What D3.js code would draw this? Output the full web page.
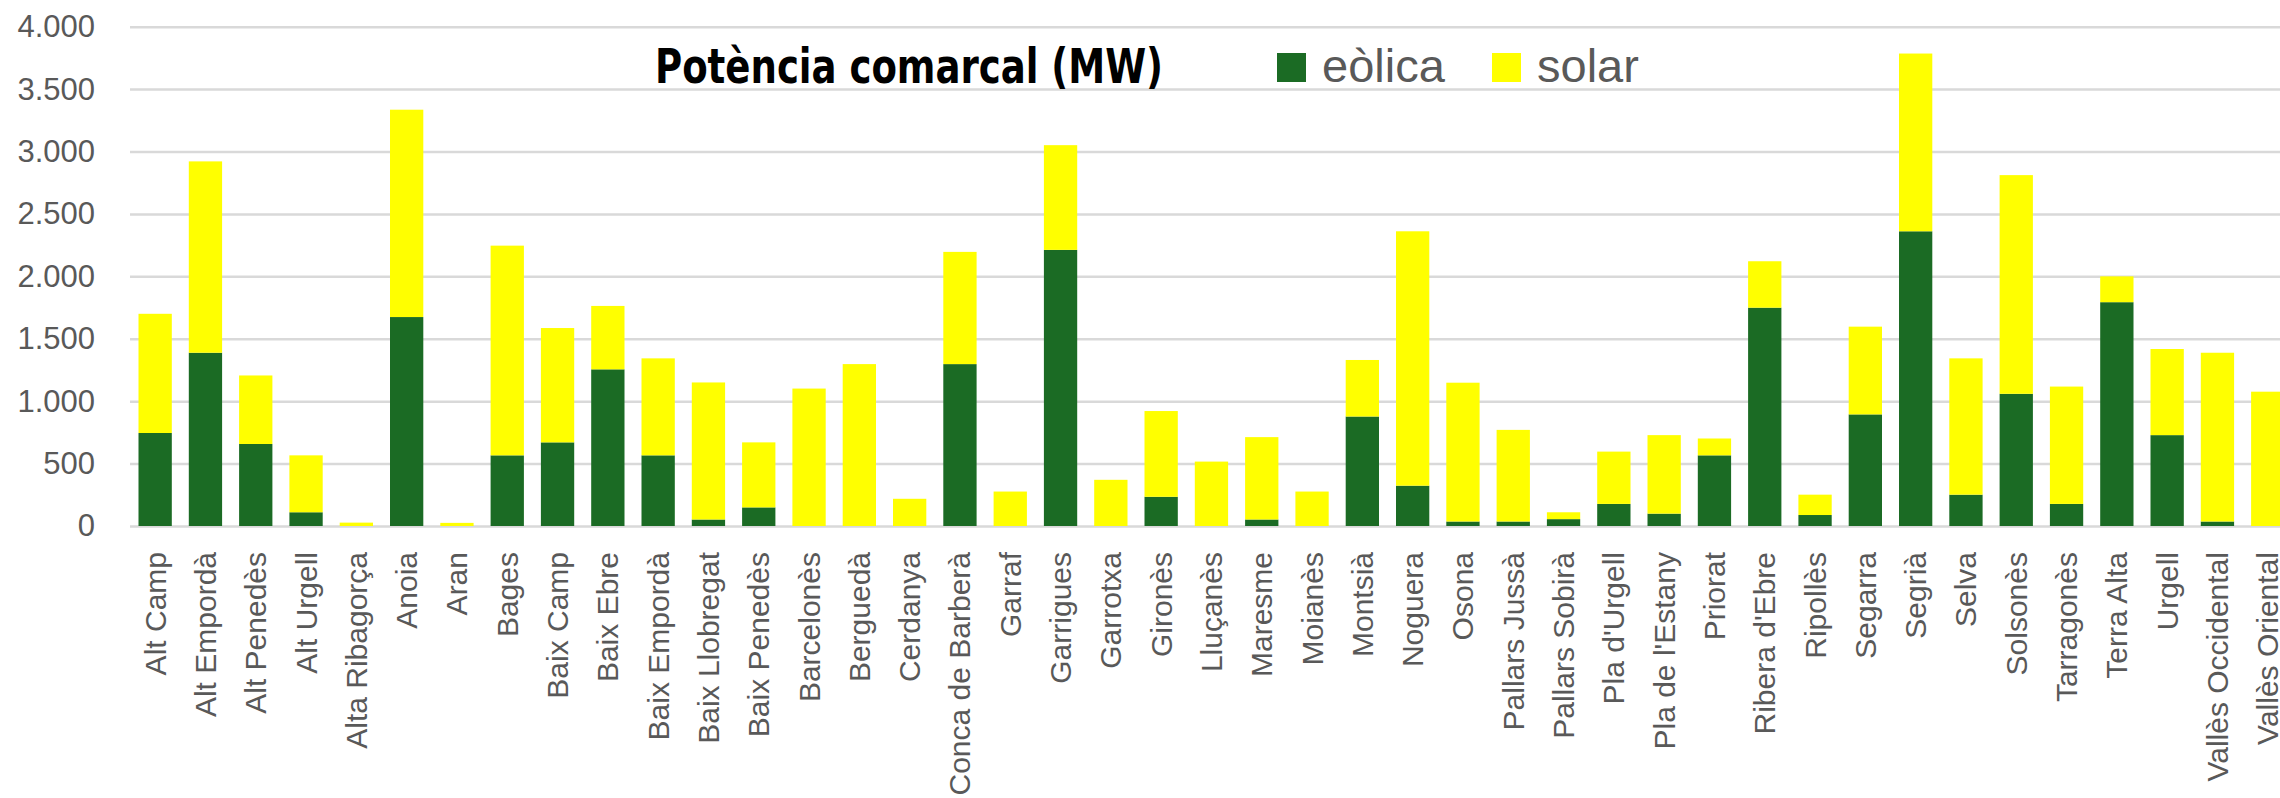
<!DOCTYPE html>
<html>
<head>
<meta charset="utf-8">
<script src="https://cdn.jsdelivr.net/npm/d3@7"></script>
<style>
  html, body { margin: 0; padding: 0; background: #ffffff; }
  svg { display: block; }
</style>
</head>
<body>
<svg id="chart" width="2280" height="798"></svg>
<script>
// Comarques of Catalonia
const categories = [
  "Alt Camp", "Alt Empordà", "Alt Penedès", "Alt Urgell", "Alta Ribagorça", "Anoia", "Aran",
  "Bages", "Baix Camp", "Baix Ebre", "Baix Empordà", "Baix Llobregat", "Baix Penedès",
  "Barcelonès", "Berguedà", "Cerdanya", "Conca de Barberà", "Garraf", "Garrigues", "Garrotxa",
  "Gironès", "Lluçanès", "Maresme", "Moianès", "Montsià", "Noguera", "Osona", "Pallars Jussà",
  "Pallars Sobirà", "Pla d'Urgell", "Pla de l'Estany", "Priorat", "Ribera d'Ebre", "Ripollès",
  "Segarra", "Segrià", "Selva", "Solsonès", "Tarragonès", "Terra Alta", "Urgell",
  "Vallès Occidental", "Vallès Oriental"
];

// Installed wind power per comarca (MW)
const eolica = [
  745, 1388, 657, 110, 0, 1674, 0,
  566, 670, 1255, 566, 52, 149,
  0, 0, 0, 1297, 0, 2212, 0,
  234, 0, 52, 0, 877, 323, 36, 36,
  55, 177, 99, 566, 1749, 88,
  894, 2361, 251, 1059, 177, 1793, 728,
  36, 0
];

// Installed solar power per comarca (MW)
const solar = [
  955, 1533, 549, 456, 27, 1661, 25,
  1680, 916, 508, 777, 1098, 521,
  1101, 1297, 218, 899, 276, 839, 370,
  687, 516, 660, 276, 453, 2038, 1112, 734,
  55, 419, 629, 135, 372, 163,
  703, 1424, 1092, 1752, 940, 207, 690,
  1352, 1076
];

const seriesNames = ["eòlica", "solar"];
const seriesColors = ["#1b6b24", "#ffff00"];
const yTicks = [0, 500, 1000, 1500, 2000, 2500, 3000, 3500, 4000];
const titleText = "Potència comarcal (MW)";

const svg = d3.select("#chart");
const plotLeft = 130, step = 50.3, plotBottom = 526, plotTop = 26.7;
const plotRight = plotLeft + step * categories.length;

const x = d3.scaleBand()
  .domain(categories)
  .range([plotLeft, plotRight])
  .paddingInner(0.338)
  .paddingOuter(0.169);

const y = d3.scaleLinear().domain([0, 4000]).range([plotBottom, plotTop]);

const locale = d3.formatLocale({ decimal: ",", thousands: ".", grouping: [3], currency: ["", " €"] });
const fmt = locale.format(",");

// Value axis with horizontal gridlines
const yAxis = svg.append("g")
  .attr("transform", `translate(${plotLeft},0)`)
  .call(d3.axisLeft(y)
    .tickValues(yTicks)
    .tickFormat(fmt)
    .tickSize(-(plotRight - plotLeft))
    .tickPadding(35));
yAxis.select(".domain").remove();
yAxis.selectAll(".tick line")
  .attr("stroke", "#d9d9d9")
  .attr("stroke-width", 2.5);
yAxis.selectAll(".tick text")
  .attr("fill", "#595959")
  .style("font-family", "'Liberation Sans', Arial, sans-serif")
  .style("font-size", "31px");

// Stacked bars
const rows = categories.map((c, i) => ({ cat: c, "eòlica": eolica[i], "solar": solar[i] }));
const stacked = d3.stack().keys(seriesNames)(rows);

svg.append("g")
  .selectAll("g")
  .data(stacked)
  .join("g")
  .attr("fill", (d, i) => seriesColors[i])
  .selectAll("rect")
  .data(d => d)
  .join("rect")
  .attr("x", d => x(d.data.cat))
  .attr("width", x.bandwidth())
  .attr("y", d => y(d[1]))
  .attr("height", d => Math.max(0, y(d[0]) - y(d[1])));

// Category axis with rotated labels
const xAxis = svg.append("g")
  .attr("transform", `translate(0,${plotBottom})`)
  .call(d3.axisBottom(x).tickSize(0));
xAxis.select(".domain").remove();
xAxis.selectAll(".tick text")
  .attr("transform", "rotate(-90)")
  .attr("text-anchor", "end")
  .attr("x", -26)
  .attr("y", 0)
  .attr("dy", "0.35em")
  .attr("fill", "#595959")
  .style("font-family", "'Liberation Sans', Arial, sans-serif")
  .style("font-size", "30px");

// Title
svg.append("text")
  .attr("x", 655)
  .attr("y", 83)
  .attr("textLength", 508)
  .attr("lengthAdjust", "spacingAndGlyphs")
  .style("font-family", "'Liberation Sans Narrow', 'DejaVu Sans Condensed', 'Liberation Sans', Arial, sans-serif")
  .style("font-weight", "bold")
  .style("font-size", "48px")
  .attr("fill", "#000000")
  .text(titleText);

// Legend
const legendX = [1277, 1492];
const legend = svg.append("g")
  .selectAll("g")
  .data(seriesNames)
  .join("g")
  .attr("transform", (d, i) => `translate(${legendX[i]},53)`);
legend.append("rect")
  .attr("width", 29)
  .attr("height", 29)
  .attr("fill", (d, i) => seriesColors[i]);
legend.append("text")
  .attr("x", 45)
  .attr("y", 29)
  .attr("fill", "#595959")
  .style("font-family", "'Liberation Sans', Arial, sans-serif")
  .style("font-size", "47px")
  .text(d => d);
</script>
</body>
</html>
